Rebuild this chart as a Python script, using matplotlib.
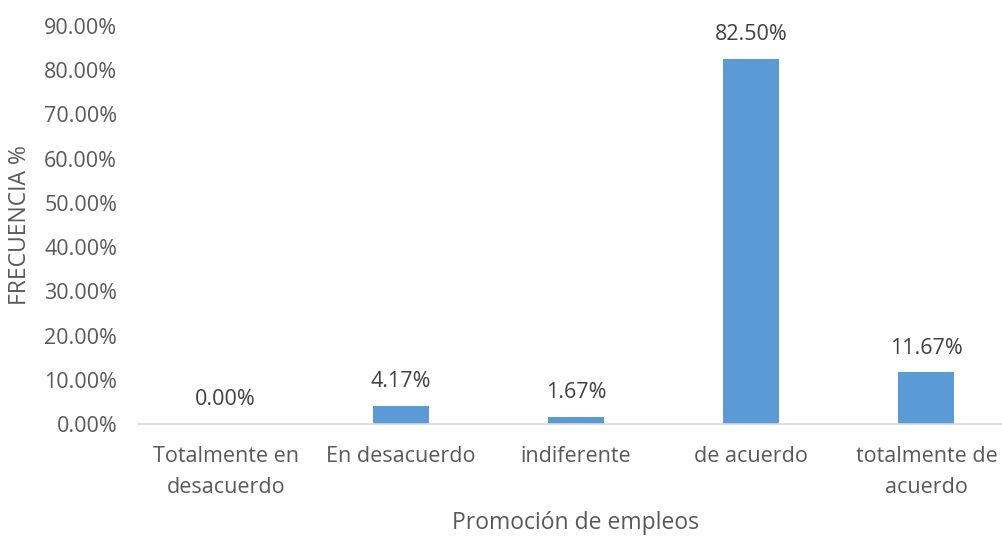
import matplotlib.pyplot as plt
from matplotlib.ticker import FuncFormatter

# Chart data
categories = ["Totalmente en\ndesacuerdo", "En desacuerdo", "indiferente",
              "de acuerdo", "totalmente de\nacuerdo"]
values = [0.00, 4.17, 1.67, 82.50, 11.67]
y_ticks = [0, 10, 20, 30, 40, 50, 60, 70, 80, 90]

text_color = "#595959"
bar_color = "#5B9BD5"
fs = 15.5

plt.rcParams["font.family"] = ["Open Sans", "DejaVu Sans"]

fig = plt.figure(figsize=(10.02, 5.36), dpi=100)
# axes placed in pixel terms: left 138, right 1014 (runs past the edge), bottom 424, top 26
W, H = 1002, 536
ax = fig.add_axes([138 / W, (H - 424) / H, 876 / W, (424 - 26) / H])

x = range(len(categories))
ax.bar(x, values, width=0.32, color=bar_color)
for xi, v in zip(x, values):
    ax.annotate(f"{v:.2f}%", (xi, v), xytext=(0, 10), textcoords="offset points",
                ha="center", va="bottom", fontsize=fs, color="#404040")

ax.set_xlim(-0.5, len(categories) - 0.5)
ax.set_ylim(0, 90)
ax.set_yticks(y_ticks)
ax.yaxis.set_major_formatter(FuncFormatter(lambda v, _: f"{v:.2f}%"))
ax.set_xticks(list(x))
ax.set_xticklabels(categories, linespacing=1.6)
ax.tick_params(axis="both", length=0, labelsize=fs, colors=text_color)
ax.tick_params(axis="x", pad=16)
ax.tick_params(axis="y", pad=15)

for side in ["top", "right", "left"]:
    ax.spines[side].set_visible(False)
ax.spines["bottom"].set_color("#D9D9D9")
ax.spines["bottom"].set_linewidth(1.2)

ax.set_ylabel("FRECUENCIA %", fontsize=fs + 1, color=text_color)
ax.yaxis.set_label_coords(-(138 - 32) / 876, (424 - 225) / (424 - 26))
ax.set_xlabel("Promoción de empleos", fontsize=fs + 1, color=text_color)
ax.xaxis.set_label_coords((576 - 138) / 876, -(511 - 424) / (424 - 26))

fig.savefig("out.png", dpi=100)
